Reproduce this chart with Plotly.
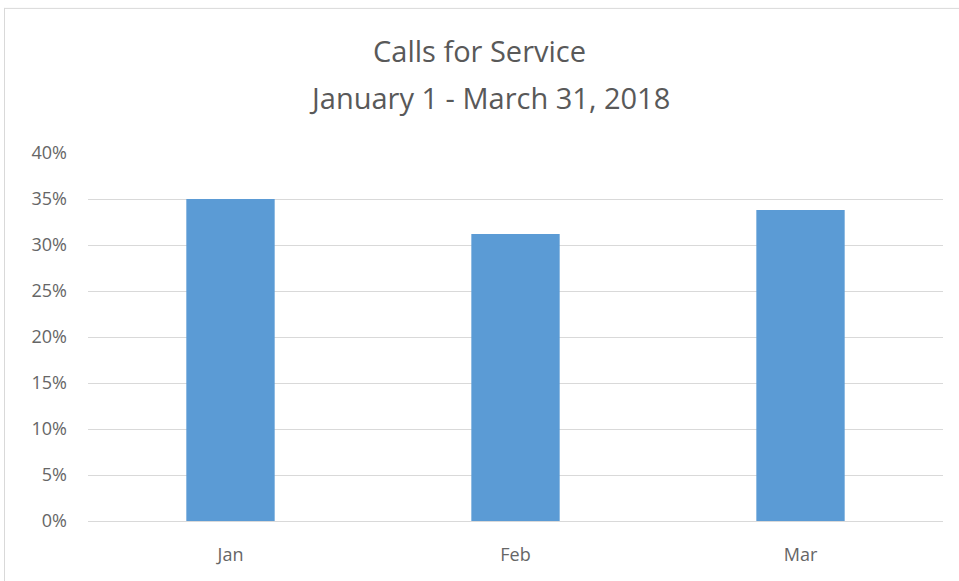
import plotly.graph_objects as go

months = ["Jan", "Feb", "Mar"]
pct_calls = [35.0, 31.2, 33.8]
y_ticks = [0, 5, 10, 15, 20, 25, 30, 35, 40]
y_ticklabels = [f"{v}%" for v in y_ticks]
title_line1 = "Calls for Service"
title_line2 = "January 1 - March 31, 2018"

W, H = 959, 581
L, R, T, B = 88, 16, 152.5, 59.5
pw, ph = W - L - R, H - T - B


def px_x(x):
    return (x - L) / pw


def px_y(y):
    return (H - B - y) / ph


fig = go.Figure(go.Bar(x=months, y=pct_calls, marker=dict(color="#5B9BD5", line=dict(width=0))))

fig.update_layout(
    width=W, height=H,
    margin=dict(l=L, r=R, t=T, b=B),
    paper_bgcolor="white", plot_bgcolor="white",
    bargap=0.69,
    showlegend=False,
    font=dict(family="Open Sans", color="#595959"),
    annotations=[
        dict(text=title_line1, x=px_x(479), y=px_y(50), xref="paper", yref="paper",
             showarrow=False, font=dict(size=29, color="#595959"), xanchor="center", yanchor="middle"),
        dict(text=title_line2, x=px_x(489), y=px_y(97), xref="paper", yref="paper",
             showarrow=False, font=dict(size=29, color="#595959"), xanchor="center", yanchor="middle"),
    ],
    shapes=[
        dict(type="line", xref="paper", yref="paper",
             x0=px_x(4.5), x1=px_x(4.5), y0=px_y(7), y1=px_y(600),
             line=dict(color="#d9d9d9", width=1), layer="below"),
        dict(type="line", xref="paper", yref="paper",
             x0=px_x(4.5), x1=px_x(1000), y0=px_y(7.5), y1=px_y(7.5),
             line=dict(color="#d9d9d9", width=1), layer="below"),
    ],
)
fig.update_yaxes(range=[0, 40], tickvals=y_ticks, ticktext=y_ticklabels,
                 showgrid=True, gridcolor="#d9d9d9", gridwidth=1,
                 zeroline=False, tickfont=dict(size=18, color="#666666"),
                 ticklabelstandoff=20, fixedrange=True)
fig.update_xaxes(showline=True, linecolor="#d9d9d9", linewidth=1,
                 tickfont=dict(size=18, color="#666666"), ticklabelstandoff=17)

fig.write_html("out.html", config={"displayModeBar": False},
               post_script="document.body.style.margin='0';document.body.style.overflow='hidden';")
